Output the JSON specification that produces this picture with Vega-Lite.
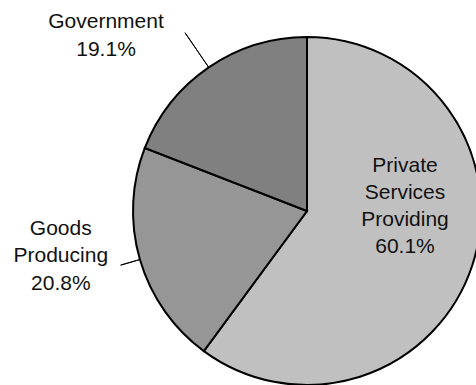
{
  "$schema": "https://vega.github.io/schema/vega-lite/v6.json",
  "width": 338,
  "height": 348,
  "autosize": {"type": "none"},
  "padding": {"left": 138, "top": 37, "right": 0, "bottom": 0},
  "background": "white",
  "config": {"view": {"stroke": null}},
  "data": {
    "values": [
      {"sector": "Private Services Providing", "label": "Private\nServices\nProviding\n60.1%", "share": 60.1},
      {"sector": "Goods Producing", "label": "Goods\nProducing\n20.8%", "share": 20.8},
      {"sector": "Government", "label": "Government\n19.1%", "share": 19.1}
    ]
  },
  "encoding": {
    "theta": {"field": "share", "type": "quantitative", "stack": true},
    "order": {"field": "share", "type": "quantitative", "sort": "descending"},
    "detail": {"field": "sector", "type": "nominal"}
  },
  "layer": [
    {
      "mark": {"type": "arc", "radius": 174, "stroke": "#000000", "strokeWidth": 2},
      "encoding": {
        "color": {
          "field": "sector",
          "type": "nominal",
          "scale": {
            "domain": ["Private Services Providing", "Goods Producing", "Government"],
            "range": ["#c0c0c0", "#969696", "#808080"]
          },
          "legend": null
        }
      }
    },
    {
      "mark": {"type": "arc", "radius": 216, "radius2": 174, "padAngle": 3.14159, "stroke": "#000000", "strokeWidth": 1, "fillOpacity": 0},
      "encoding": {
        "opacity": {"condition": {"test": "datum.sector === 'Government'", "value": 1}, "value": 0}
      }
    },
    {
      "mark": {"type": "arc", "radius": 194, "radius2": 174, "padAngle": 3.14159, "stroke": "#000000", "strokeWidth": 1, "fillOpacity": 0},
      "encoding": {
        "opacity": {"condition": {"test": "datum.sector === 'Goods Producing'", "value": 1}, "value": 0}
      }
    },
    {
      "mark": {"type": "text", "radius": 100, "dx": 3, "dy": -76, "align": "center", "baseline": "middle", "font": "Liberation Sans", "fontSize": 21, "lineHeight": 27, "lineBreak": "\n", "fill": "#111111"},
      "encoding": {
        "text": {"condition": {"test": "datum.sector === 'Private Services Providing'", "field": "label"}, "value": ""}
      }
    },
    {
      "mark": {"type": "text", "radius": 196, "dx": -58, "dy": -37, "align": "center", "baseline": "middle", "font": "Liberation Sans", "fontSize": 21, "lineHeight": 27.5, "lineBreak": "\n", "fill": "#111111"},
      "encoding": {
        "text": {"condition": {"test": "datum.sector === 'Goods Producing'", "field": "label"}, "value": ""}
      }
    },
    {
      "mark": {"type": "text", "radius": 216, "dx": -79, "dy": -11, "align": "center", "baseline": "middle", "font": "Liberation Sans", "fontSize": 21, "lineHeight": 28, "lineBreak": "\n", "fill": "#111111"},
      "encoding": {
        "text": {"condition": {"test": "datum.sector === 'Government'", "field": "label"}, "value": ""}
      }
    }
  ]
}
